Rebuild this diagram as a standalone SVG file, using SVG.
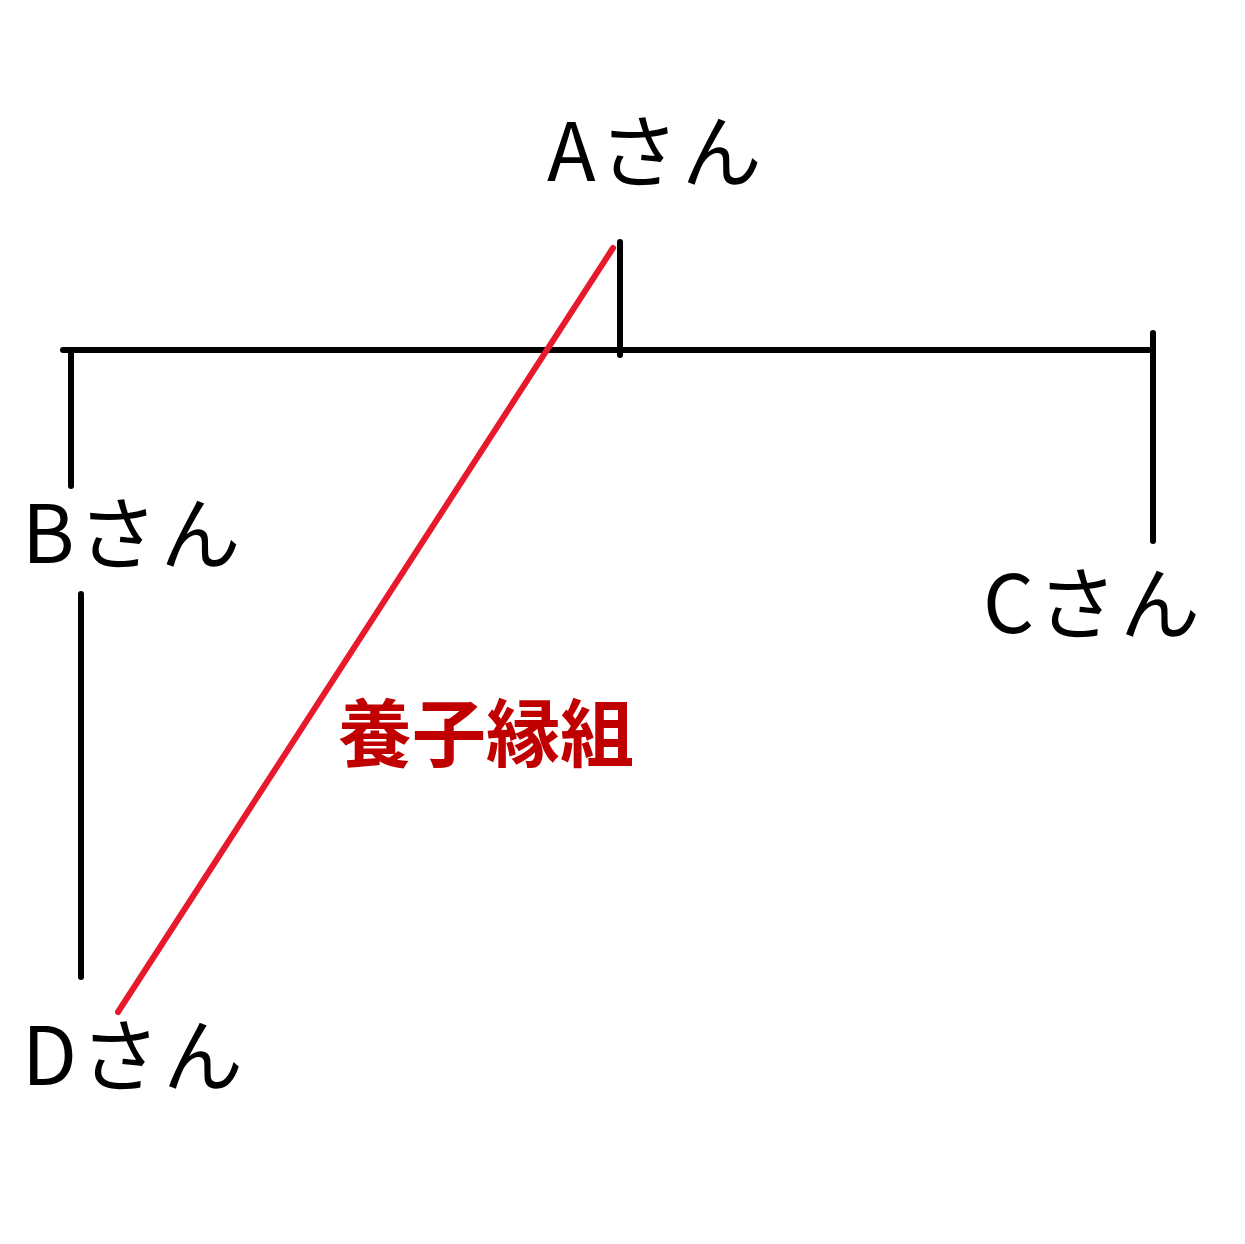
<svg xmlns="http://www.w3.org/2000/svg" width="1245" height="1244" viewBox="0 0 1245 1244">
<style>
.lbl{font-family:"Noto Sans CJK JP","Noto Sans",sans-serif;font-size:80px;fill:#000;letter-spacing:3px}
.ln{stroke:#000;stroke-width:6;stroke-linecap:round;fill:none}
.red{stroke:#e8192c;stroke-width:6;stroke-linecap:round;fill:none}
.adopt{font-family:"Noto Sans CJK JP","Noto Sans",sans-serif;font-size:74px;font-weight:bold;fill:#c00000}
</style>
<rect width="1245" height="1244" fill="#fff"/>
<g id="connectors">
<line class="ln" x1="63" y1="350" x2="1153" y2="350"/>
<line class="ln" x1="620" y1="242" x2="620" y2="355"/>
<line class="ln" x1="71" y1="350" x2="71" y2="486"/>
<line class="ln" x1="1153" y1="333" x2="1153" y2="541"/>
<line class="ln" x1="81" y1="594" x2="81" y2="977"/>
<line class="red" x1="613" y1="248" x2="118" y2="1012"/>
<text class="adopt" x="338" y="761">養子縁組</text>
</g>
<g id="nodeA"><text class="lbl" x="547" y="181">Aさん</text></g>
<g id="nodeB"><text class="lbl" x="22" y="563">Bさん</text></g>
<g id="nodeC"><text class="lbl" x="983" y="633">Cさん</text></g>
<g id="nodeD"><text class="lbl" x="22" y="1085">Dさん</text></g>
</svg>
